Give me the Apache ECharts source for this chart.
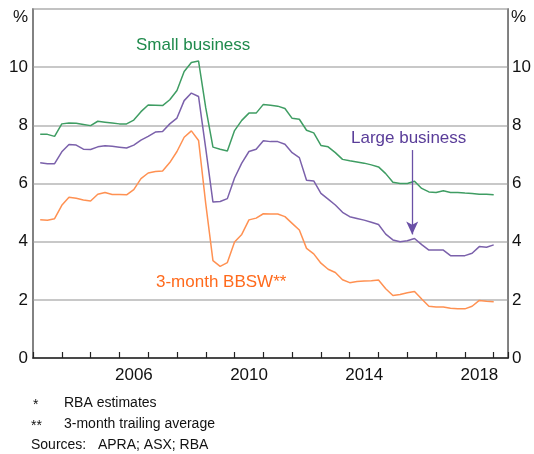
<!DOCTYPE html>
<html>
<head>
<meta charset="utf-8">
<script src="https://cdn.jsdelivr.net/npm/echarts@6/dist/echarts.min.js"></script>
<style>
  html, body { margin: 0; padding: 0; background: #fff; }
  #chart { width: 534px; height: 454px; }
</style>
</head>
<body>
<div id="chart"></div>
<script>
// quarterly, Mar 2003 to Dec 2018
var years = [2003, 2004, 2005, 2006, 2007, 2008, 2009, 2010, 2011, 2012, 2013, 2014, 2015, 2016, 2017, 2018];
var tickYears = [2006, 2010, 2014, 2018];

var small = [
    7.69, 7.69, 7.62, 8.05,
    8.08, 8.07, 8.03, 7.99,
    8.14, 8.11, 8.08, 8.05,
    8.05, 8.18, 8.47, 8.70,
    8.69, 8.68, 8.88, 9.20,
    9.85, 10.16, 10.21, 8.60,
    7.25, 7.18, 7.12, 7.82,
    8.17, 8.42, 8.42, 8.72,
    8.69, 8.66, 8.58, 8.24,
    8.21, 7.83, 7.74, 7.31,
    7.26, 7.06, 6.83, 6.78,
    6.74, 6.70, 6.64, 6.57,
    6.34, 6.04, 6.00, 6.00,
    6.08, 5.83, 5.71, 5.69,
    5.75, 5.69, 5.69, 5.67,
    5.66, 5.63, 5.63, 5.61
];
var large = [
    6.71, 6.68, 6.68, 7.09,
    7.34, 7.32, 7.18, 7.17,
    7.26, 7.30, 7.28, 7.25,
    7.22, 7.32, 7.49, 7.62,
    7.77, 7.79, 8.05, 8.25,
    8.85, 9.11, 8.99, 7.20,
    5.36, 5.38, 5.48, 6.19,
    6.70, 7.10, 7.18, 7.47,
    7.44, 7.44, 7.35, 7.06,
    6.89, 6.11, 6.09, 5.66,
    5.46, 5.26, 5.01, 4.86,
    4.80, 4.74, 4.67, 4.59,
    4.26, 4.06, 4.00, 4.03,
    4.11, 3.90, 3.71, 3.71,
    3.71, 3.52, 3.52, 3.52,
    3.60, 3.83, 3.81, 3.89
];
var bbsw = [
    4.75, 4.74, 4.79, 5.25,
    5.53, 5.49, 5.43, 5.40,
    5.63, 5.69, 5.62, 5.62,
    5.61, 5.79, 6.17, 6.36,
    6.41, 6.43, 6.72, 7.10,
    7.59, 7.81, 7.48, 5.30,
    3.35, 3.15, 3.28, 3.99,
    4.25, 4.75, 4.81, 4.96,
    4.95, 4.95, 4.86, 4.63,
    4.40, 3.77, 3.58, 3.26,
    3.05, 2.94, 2.69, 2.59,
    2.63, 2.65, 2.66, 2.68,
    2.38, 2.15, 2.18, 2.24,
    2.29, 2.03, 1.78, 1.75,
    1.75, 1.71, 1.69, 1.69,
    1.78, 1.98, 1.95, 1.93
];

var dates = [];
years.forEach(function(y){
    for (var q = 1; q <= 4; q++) dates.push(y + q / 4);
});
function pairs(arr){
    return arr.map(function(v, i){ return [dates[i], v]; });
}

var font = 'Arial, "Liberation Sans", sans-serif';
var chart = echarts.init(document.getElementById('chart'), null, {renderer: 'canvas'});

var yAxisBase = {
    type: 'value', min: 0, max: 12, interval: 2,
    axisLine: {show: true, lineStyle: {color: '#7a7a7a', width: 1.5}},
    axisTick: {show: false},
    splitLine: {show: true, lineStyle: {color: '#c4c4c4', width: 1.5}},
    axisLabel: {
        color: '#111', fontSize: 17, fontFamily: font,
        formatter: function(v){ return v === 12 ? '' : String(v); }
    }
};

var option = {
    animation: false,
    grid: {left: 33, right: 25, top: 9, bottom: 96, show: true, borderColor: '#7a7a7a', borderWidth: 1.5},
    xAxis: {
        type: 'value', min: 2003, max: 2019.5, interval: 1,
        axisLine: {show: true, lineStyle: {color: '#222', width: 1.5}},
        axisTick: {show: true, inside: true, length: 6, lineStyle: {color: '#222', width: 1.2}},
        splitLine: {show: false},
        axisLabel: {
            color: '#111', fontSize: 17, fontFamily: font, margin: 9,
            formatter: function(v){
                return tickYears.indexOf(v) >= 0 ? '{a|' + v + '}' : '';
            },
            rich: {a: {fontSize: 17, fontFamily: font, color: '#111', padding: [0, 0, 0, 29]}}
        }
    },
    yAxis: [
        echarts.util.merge({position: 'left', axisLabel: {margin: 5}}, yAxisBase, false),
        echarts.util.merge({position: 'right', axisLabel: {margin: 4}}, yAxisBase, false)
    ],
    series: [
        {
            name: 'Small business', type: 'line', data: pairs(small),
            showSymbol: false, lineStyle: {color: '#3f9d63', width: 1.5}
        },
        {
            name: 'Large business', type: 'line', data: pairs(large),
            showSymbol: false, lineStyle: {color: '#7b61ab', width: 1.5},
            markLine: {
                silent: true, animation: false,
                symbol: ['none', 'arrow'], symbolSize: [9, 13],
                label: {show: false},
                lineStyle: {color: '#6a50a6', width: 1.3, type: 'solid', opacity: 1},
                data: [[{coord: [2016.17, 7.15]}, {coord: [2016.17, 4.25]}]]
            }
        },
        {
            name: '3-month BBSW', type: 'line', data: pairs(bbsw),
            showSymbol: false, lineStyle: {color: '#ff9152', width: 1.5}
        }
    ],
    graphic: [
        {type: 'text', left: 13, top: 9, style: {text: '%', font: '17px ' + font, fill: '#111'}},
        {type: 'text', left: 511, top: 9, style: {text: '%', font: '17px ' + font, fill: '#111'}},
        {type: 'text', left: 136, top: 37, style: {text: 'Small business', font: '17px ' + font, fill: '#1f8a4c'}},
        {type: 'text', left: 351, top: 130, style: {text: 'Large business', font: '17px ' + font, fill: '#5a3d99'}},
        {type: 'text', left: 156, top: 274, style: {text: '3-month BBSW**', font: '17px ' + font, fill: '#ff6a1c'}},
        {type: 'text', left: 33, top: 398, style: {text: '*', font: '14px ' + font, fill: '#111'}},
        {type: 'text', left: 64, top: 396, style: {text: 'RBA estimates', font: '14px ' + font, fill: '#111'}},
        {type: 'text', left: 31, top: 419, style: {text: '**', font: '14px ' + font, fill: '#111'}},
        {type: 'text', left: 64, top: 417, style: {text: '3-month trailing average', font: '14px ' + font, fill: '#111'}},
        {type: 'text', left: 31, top: 438, style: {text: 'Sources:   APRA; ASX; RBA', font: '14px ' + font, fill: '#111'}}
    ]
};
chart.setOption(option);
</script>
</body>
</html>
